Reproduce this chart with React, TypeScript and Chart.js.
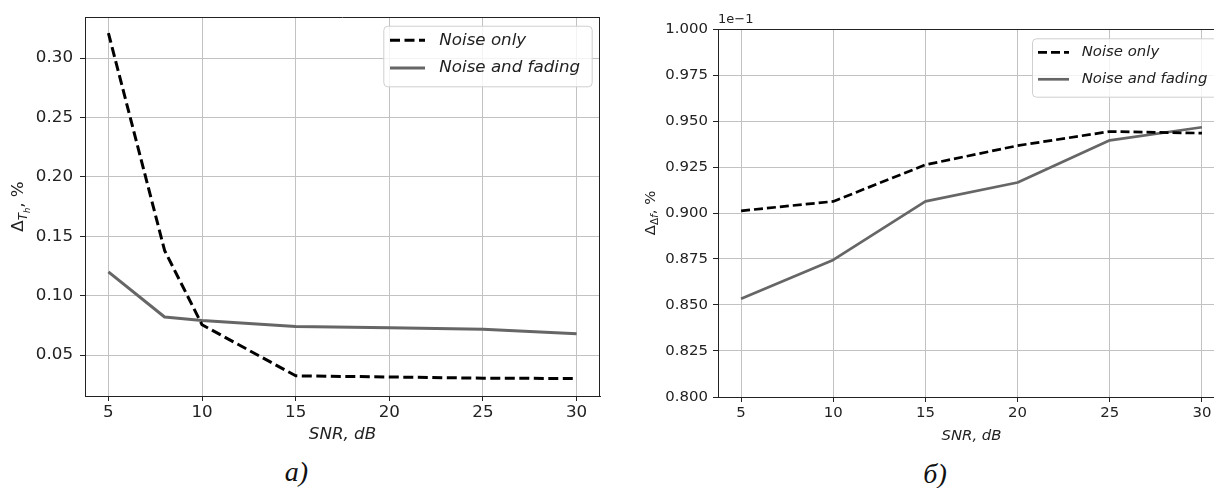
import React, { useEffect, useRef } from "react";
import { Chart, registerables } from "chart.js";

Chart.register(...registerables);

// ---------- data ----------
const seriesLabels = ["Noise only", "Noise and fading"];

// panel а)
const snrA = [5, 8, 10, 15, 20, 25, 30];
const noiseOnlyA = [0.321, 0.138, 0.0755, 0.0325, 0.0315, 0.0305, 0.0302];
const noiseFadingA = [0.12, 0.082, 0.079, 0.0739, 0.073, 0.0717, 0.068];

// panel б) (actual values; axis shows them scaled by 1e-1)
const snrB = [5, 10, 15, 20, 25, 30];
const noiseOnlyB = [0.09012, 0.09063, 0.09262, 0.09366, 0.09443, 0.09434];
const noiseFadingB = [0.08534, 0.08745, 0.09063, 0.09166, 0.09395, 0.09466];

const xTitle = "SNR, dB";
const captionA = "а)";
const captionB = "б)";
const offsetTextB = "1e\u22121";

type Part = { t: string; s: number; it?: boolean; dy?: number };
const yLabelA: Part[] = [
  { t: "Δ", s: 1 },
  { t: "T", s: 0.7, it: true, dy: 0.22 },
  { t: "h", s: 0.5, it: true, dy: 0.38 },
  { t: ", %", s: 1 },
];
const yLabelB: Part[] = [
  { t: "Δ", s: 1 },
  { t: "Δ", s: 0.7, dy: 0.22 },
  { t: "f", s: 0.7, it: true, dy: 0.22 },
  { t: ", %", s: 1 },
];

const FONT = '"DejaVu Sans"';
const TXT = "#222";

function pts(xs: number[], ys: number[]) {
  return xs.map((x, i) => ({ x, y: ys[i] }));
}

const mplPlugin = {
  id: "mpl",
  afterDraw(chart: any, _args: any, o: any) {
    const ctx: CanvasRenderingContext2D = chart.ctx;
    const a = chart.chartArea;
    ctx.save();
    // spines (top / right)
    ctx.strokeStyle = "#222";
    ctx.lineWidth = 1;
    ctx.setLineDash([]);
    ctx.beginPath();
    ctx.moveTo(a.left, Math.round(a.top) + 0.5);
    ctx.lineTo(a.right, Math.round(a.top) + 0.5);
    if (o.rightSpine) {
      ctx.moveTo(Math.round(a.right) - 0.5, a.top);
      ctx.lineTo(Math.round(a.right) - 0.5, a.bottom);
    }
    ctx.stroke();

    // legend
    const L = o.legend;
    const bx = a.right - L.right - L.w;
    const by = a.top + L.top;
    ctx.beginPath();
    if ((ctx as any).roundRect) (ctx as any).roundRect(bx + 0.5, by + 0.5, L.w, L.h, 4);
    else ctx.rect(bx + 0.5, by + 0.5, L.w, L.h);
    ctx.fillStyle = "rgba(255,255,255,0.8)";
    ctx.fill();
    ctx.strokeStyle = "#cfcfcf";
    ctx.lineWidth = 1;
    ctx.stroke();
    chart.data.datasets.forEach((ds: any, i: number) => {
      const y = a.top + L.rows[i];
      ctx.beginPath();
      ctx.setLineDash(ds.borderDash || []);
      ctx.lineWidth = ds.borderWidth;
      ctx.strokeStyle = ds.borderColor;
      ctx.lineCap = "butt";
      ctx.moveTo(bx + L.l0, y);
      ctx.lineTo(bx + L.l1, y);
      ctx.stroke();
      ctx.setLineDash([]);
      ctx.fillStyle = TXT;
      ctx.font = `italic ${o.fs}px ${FONT}`;
      ctx.textAlign = "left";
      ctx.textBaseline = "middle";
      ctx.fillText(ds.label, bx + L.tx, y);
    });

    // x title
    ctx.fillStyle = TXT;
    ctx.font = `italic ${o.fs}px ${FONT}`;
    ctx.textAlign = "center";
    ctx.textBaseline = "middle";
    ctx.fillText(o.xTitle, (a.left + a.right) / 2, a.bottom + o.xTitleDy);

    // offset text
    if (o.offsetText) {
      ctx.font = `${o.offsetFs}px ${FONT}`;
      ctx.textAlign = "left";
      ctx.fillText(o.offsetText, a.left, a.top - 9);
    }

    // y label (rotated, with subscripts)
    const parts: Part[] = o.yLabel;
    const fontOf = (p: Part) => `${p.it ? "italic " : ""}${p.s * o.fs}px ${FONT}`;
    let total = 0;
    const widths = parts.map((p) => {
      ctx.font = fontOf(p);
      const w = ctx.measureText(p.t).width;
      total += w;
      return w;
    });
    ctx.translate(o.yLabelX, (a.top + a.bottom) / 2);
    ctx.rotate(-Math.PI / 2);
    ctx.textAlign = "left";
    ctx.textBaseline = "alphabetic";
    let x = -total / 2;
    parts.forEach((p, i) => {
      ctx.font = fontOf(p);
      ctx.fillText(p.t, x, (p.dy || 0) * o.fs);
      x += widths[i];
    });
    ctx.restore();
  },
};

function makeChart(
  canvas: HTMLCanvasElement,
  cfg: {
    datasets: any[];
    xMin: number;
    xMax: number;
    yMin: number;
    yMax: number;
    yStep: number;
    yFmt: (v: number) => string;
    fs: number;
    pad: any;
    yWidth: number;
    xHeight: number;
    plug: any;
    yPad: number;
    xPad: number;
  }
) {
  return new Chart(canvas, {
    type: "line",
    data: { datasets: cfg.datasets },
    options: {
      responsive: false,
      animation: false,
      devicePixelRatio: 1,
      layout: { padding: cfg.pad },
      plugins: {
        legend: { display: false },
        tooltip: { enabled: false },
        mpl: cfg.plug,
      } as any,
      elements: { point: { radius: 0 } },
      scales: {
        x: {
          type: "linear",
          min: cfg.xMin,
          max: cfg.xMax,
          ticks: {
            stepSize: 5,
            includeBounds: false,
            color: TXT,
            font: { family: "DejaVu Sans", size: cfg.fs },
            padding: cfg.xPad,
            maxRotation: 0,
          },
          grid: { color: "#c2c2c2", lineWidth: 1, tickColor: "#222", tickLength: 5 },
          border: { color: "#222", width: 1 },
          afterFit: (s: any) => {
            s.height = cfg.xHeight;
          },
        },
        y: {
          type: "linear",
          min: cfg.yMin,
          max: cfg.yMax,
          ticks: {
            stepSize: cfg.yStep,
            includeBounds: false,
            color: TXT,
            font: { family: "DejaVu Sans", size: cfg.fs },
            padding: cfg.yPad,
            callback: (v: any) => cfg.yFmt(Number(v)),
          },
          grid: { color: "#c2c2c2", lineWidth: 1, tickColor: "#222", tickLength: 5 },
          border: { color: "#222", width: 1 },
          afterFit: (s: any) => {
            s.width = cfg.yWidth;
          },
        },
      },
    } as any,
    plugins: [mplPlugin],
  });
}

export default function App() {
  const refA = useRef<HTMLCanvasElement>(null);
  const refB = useRef<HTMLCanvasElement>(null);

  useEffect(() => {
    const fsA = 16.7;
    const fsB = 14.9;
    const chartA = makeChart(refA.current!, {
      datasets: [
        {
          label: seriesLabels[0],
          data: pts(snrA, noiseOnlyA),
          borderColor: "#000000",
          borderWidth: 3,
          borderDash: [10, 4.5],
          borderJoinStyle: "round",
          fill: false,
        },
        {
          label: seriesLabels[1],
          data: pts(snrA, noiseFadingA),
          borderColor: "#666666",
          borderWidth: 3,
          borderJoinStyle: "round",
          fill: false,
        },
      ],
      xMin: 3.75,
      xMax: 31.25,
      yMin: 0.0155,
      yMax: 0.3345,
      yStep: 0.05,
      yFmt: (v) => v.toFixed(2),
      fs: fsA,
      pad: { left: 0, right: 6, top: 14, bottom: 0 },
      yWidth: 85,
      xHeight: 54,
      yPad: 7,
      xPad: 2,
      plug: {
        fs: fsA,
        rightSpine: true,
        xTitle,
        xTitleDy: 39,
        yLabel: yLabelA,
        yLabelX: 23.3,
        legend: { right: 8.3, w: 208.4, top: 8.7, h: 60.6, l0: 6.7, l1: 41.7, tx: 56, rows: [23.3, 51] },
      },
    });
    const chartB = makeChart(refB.current!, {
      datasets: [
        {
          label: seriesLabels[0],
          data: pts(snrB, noiseOnlyB),
          borderColor: "#000000",
          borderWidth: 2.7,
          borderDash: [9, 4],
          borderJoinStyle: "round",
          fill: false,
        },
        {
          label: seriesLabels[1],
          data: pts(snrB, noiseFadingB),
          borderColor: "#666666",
          borderWidth: 2.7,
          borderJoinStyle: "round",
          fill: false,
        },
      ],
      xMin: 3.75,
      xMax: 31.25,
      yMin: 0.08,
      yMax: 0.1,
      yStep: 0.0025,
      yFmt: (v) => (v * 10).toFixed(3),
      fs: fsB,
      pad: { left: 0, right: 7, top: 29, bottom: 0 },
      yWidth: 112,
      xHeight: 53,
      yPad: 5,
      xPad: 2,
      plug: {
        fs: fsB,
        rightSpine: true,
        xTitle,
        xTitleDy: 39,
        yLabel: yLabelB,
        yLabelX: 49,
        offsetText: offsetTextB,
        offsetFs: 13,
        legend: { right: 8.3, w: 184.7, top: 9.3, h: 58.4, l0: 6, l1: 37, tx: 49.7, rows: [23.3, 50.3] },
      },
    });
    return () => {
      chartA.destroy();
      chartB.destroy();
    };
  }, []);

  const capStyle: React.CSSProperties = {
    position: "absolute",
    width: 100,
    textAlign: "center",
    fontFamily: '"Liberation Serif", "Times New Roman", serif',
    fontStyle: "italic",
    fontSize: 28,
    lineHeight: "28px",
    color: "#111",
  };

  return (
    <div style={{ position: "relative", width: 1214, height: 488, overflow: "hidden", background: "#fff" }}>
      <style>{`body{margin:0;background:#fff}`}</style>
      <canvas
        ref={refA}
        width={606}
        height={450}
        style={{ position: "absolute", left: 0, top: 0, display: "block" }}
      />
      <canvas
        ref={refB}
        width={626}
        height={450}
        style={{ position: "absolute", left: 606, top: 0, display: "block" }}
      />
      <div style={{ ...capStyle, left: 296.5 - 50, top: 457.5 }}>{captionA}</div>
      <div style={{ ...capStyle, left: 935 - 50, top: 459.5 }}>{captionB}</div>
    </div>
  );
}
